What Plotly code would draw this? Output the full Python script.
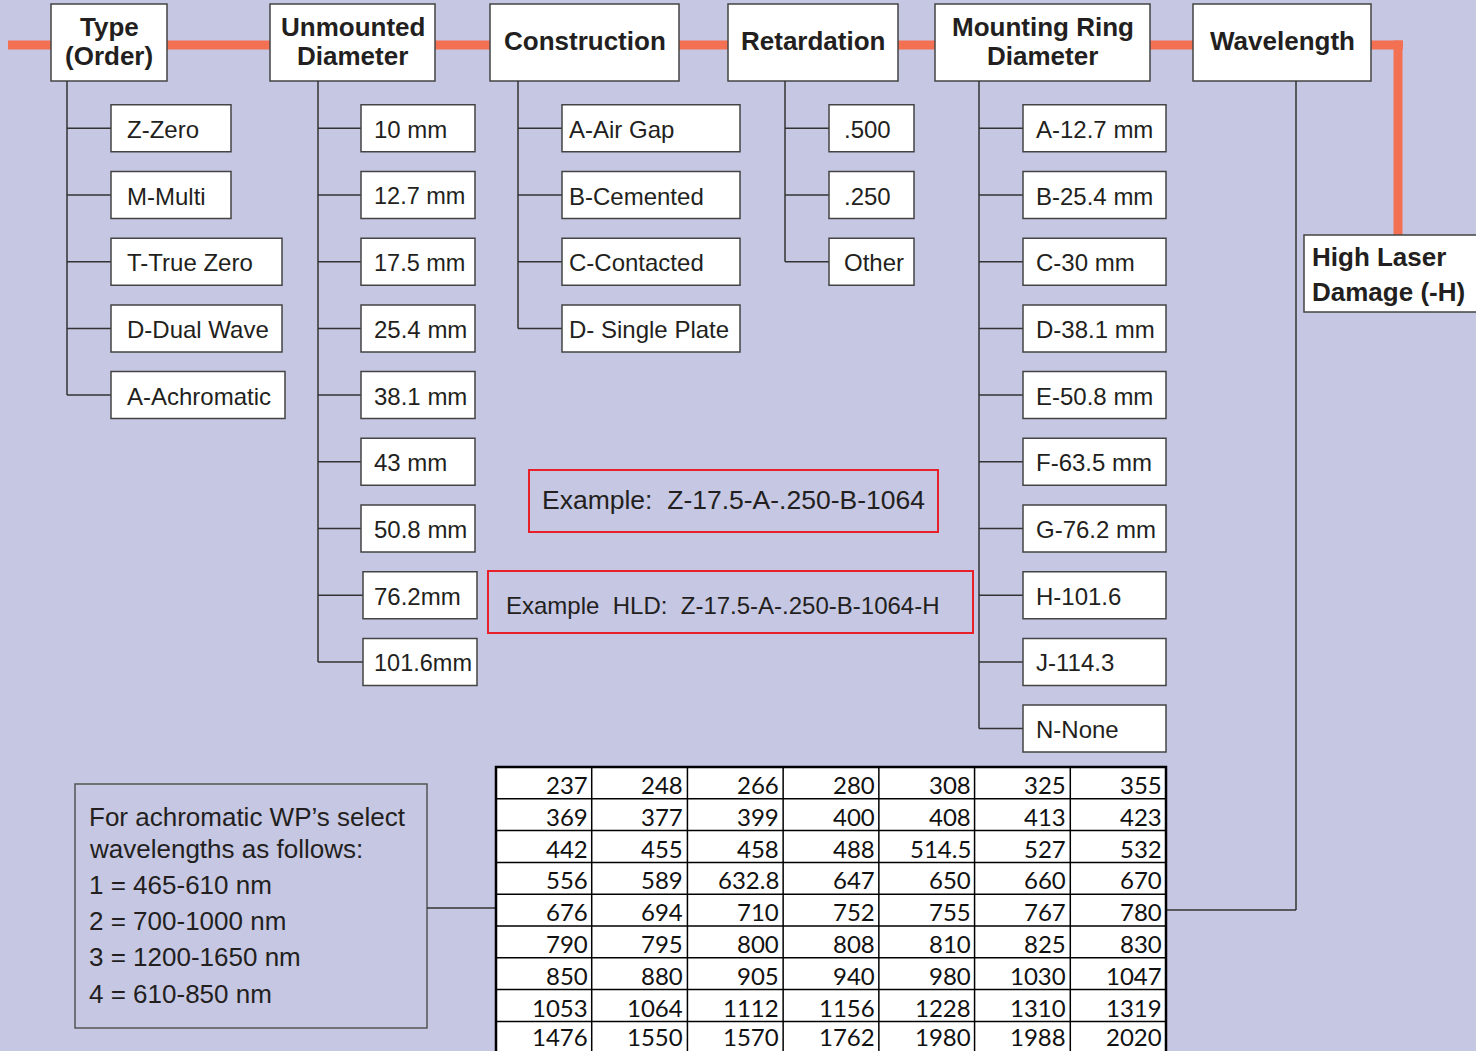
import plotly.graph_objects as go

# ---------------- data ----------------
headers = ["Type\n(Order)", "Unmounted\nDiameter", "Construction", "Retardation",
           "Mounting Ring\nDiameter", "Wavelength"]
type_items = ["Z-Zero", "M-Multi", "T-True Zero", "D-Dual Wave", "A-Achromatic"]
diameter_items = ["10 mm", "12.7 mm", "17.5 mm", "25.4 mm", "38.1 mm", "43 mm",
                  "50.8 mm", "76.2mm", "101.6mm"]
construction_items = ["A-Air Gap", "B-Cemented", "C-Contacted", "D- Single Plate"]
retardation_items = [".500", ".250", "Other"]
ring_items = ["A-12.7 mm", "B-25.4 mm", "C-30 mm", "D-38.1 mm", "E-50.8 mm",
              "F-63.5 mm", "G-76.2 mm", "H-101.6", "J-114.3", "N-None"]
hld_label = "High Laser\nDamage (-H)"
example_1 = "Example:  Z-17.5-A-.250-B-1064"
example_2 = "Example  HLD:  Z-17.5-A-.250-B-1064-H"
achromatic_note = ["For achromatic WP\u2019s select", "wavelengths as follows:",
                   "1 = 465-610 nm", "2 = 700-1000 nm", "3 = 1200-1650 nm", "4 = 610-850 nm"]
wavelength_rows = [
    ["237", "248", "266", "280", "308", "325", "355"],
    ["369", "377", "399", "400", "408", "413", "423"],
    ["442", "455", "458", "488", "514.5", "527", "532"],
    ["556", "589", "632.8", "647", "650", "660", "670"],
    ["676", "694", "710", "752", "755", "767", "780"],
    ["790", "795", "800", "808", "810", "825", "830"],
    ["850", "880", "905", "940", "980", "1030", "1047"],
    ["1053", "1064", "1112", "1156", "1228", "1310", "1319"],
    ["1476", "1550", "1570", "1762", "1980", "1988", "2020"],
]

# ---------------- layout geometry (pixels) ----------------
W, H = 1476, 1051
BG = "#C6C7E3"
ORANGE = "#F37053"
LINE = "#333333"
BOXLINE = "#444444"
RED = "#E8202A"
FONT = "Liberation Sans, Arial, sans-serif"
TFONT = "Lato, Liberation Sans, sans-serif"

header_x = [(51, 167), (270, 435), (490, 679), (728, 898), (935, 1150), (1193, 1371)]
header_y = (4, 81)
tree_x = [67, 318, 518, 785, 979]
col_items = [type_items, diameter_items, construction_items, retardation_items, ring_items]
col_box_x = [
    [(111, 231), (111, 231), (111, 282), (111, 282), (111, 285)],
    [(361, 475)] * 7 + [(363, 477)] * 2,
    [(562, 740)] * 4,
    [(829, 914)] * 3,
    [(1023, 1166)] * 10,
]
col_text_x = [125, 372, 567, 842, 1034]
row_y0, row_dy, box_h = 128.3, 66.7, 47

shapes = []
annotations = []


def rect(x0, y0, x1, y1, line_color=BOXLINE, width=1.5, fill="white"):
    shapes.append(dict(type="rect", xref="x", yref="y", x0=x0, y0=y0, x1=x1, y1=y1,
                       line=dict(color=line_color, width=width), fillcolor=fill, layer="above"))


def seg(x0, y0, x1, y1, color=LINE, width=1.5):
    shapes.append(dict(type="line", xref="x", yref="y", x0=x0, y0=y0, x1=x1, y1=y1,
                       line=dict(color=color, width=width), layer="above"))


def text(x, y, s, size, bold=False, anchor="left", family=FONT, color="#231F20"):
    annotations.append(dict(x=x, y=y, xref="x", yref="y", text=("<b>%s</b>" % s) if bold else s,
                            showarrow=False, xanchor=anchor, yanchor="middle",
                            font=dict(family=family, size=size, color=color)))


# orange spine
orange_y = 45
shapes.append(dict(type="line", xref="x", yref="y", x0=8, y0=orange_y, x1=1403, y1=orange_y,
                   line=dict(color=ORANGE, width=9), layer="below"))
shapes.append(dict(type="line", xref="x", yref="y", x0=1398, y0=orange_y - 4.5, x1=1398, y1=236,
                   line=dict(color=ORANGE, width=9), layer="below"))

# headers
for label, (x0, x1) in zip(headers, header_x):
    rect(x0, header_y[0], x1, header_y[1])
    lines = label.split("\n")
    cx = (x0 + x1) / 2
    if len(lines) == 1:
        text(cx, 41, lines[0], 26, bold=True, anchor="center")
    else:
        text(cx, 27, lines[0], 26, bold=True, anchor="center")
        text(cx, 56, lines[1], 26, bold=True, anchor="center")

# trees and item boxes
for tx, items, boxes, tx_text in zip(tree_x, col_items, col_box_x, col_text_x):
    last_y = row_y0 + row_dy * (len(items) - 1)
    seg(tx, header_y[1], tx, last_y)
    for i, (lab, (bx0, bx1)) in enumerate(zip(items, boxes)):
        cy = row_y0 + row_dy * i
        seg(tx, cy, bx0, cy)
        rect(bx0, cy - box_h / 2, bx1, cy + box_h / 2)
        text(tx_text, cy + 1, lab, 24 if len(lab) < 7 or lab[0] != "1" else 23.5)

# wavelength connector
table_x0, table_x1 = 496, 1166
table_y0, row_h = 767, 31.8
seg(1296, header_y[1], 1296, 910)
seg(1296, 910, table_x1, 910)

# High laser damage box
rect(1304, 235, 1480, 312)
hl = hld_label.split("\n")
text(1310, 257, hl[0], 26, bold=True)
text(1310, 292, hl[1], 26, bold=True)

# example boxes
rect(529, 470, 938, 532, line_color=RED, width=2, fill="rgba(0,0,0,0)")
text(540, 500, example_1.replace("  ", "\u00a0\u00a0"), 26.5)
rect(488, 571, 973, 633, line_color=RED, width=2, fill="rgba(0,0,0,0)")
text(504, 605, example_2.replace("  ", "\u00a0\u00a0"), 24)

# achromatic note box
rect(75, 784, 427, 1028, line_color="#555555", width=1.5, fill="rgba(0,0,0,0)")
note_y = [817, 849, 885, 921, 957, 994]
for s, yy in zip(achromatic_note, note_y):
    text(87, yy, s, 26)
seg(427, 908, table_x0, 908)

# wavelength table
ncols = len(wavelength_rows[0])
col_w = (table_x1 - table_x0) / ncols
nrows = len(wavelength_rows)
table_bottom = table_y0 + row_h * nrows + 3
shapes.append(dict(type="rect", xref="x", yref="y", x0=table_x0, y0=table_y0, x1=table_x1,
                   y1=table_bottom, line=dict(color="black", width=2.5), fillcolor="white",
                   layer="above"))
for c in range(1, ncols):
    xx = table_x0 + col_w * c
    seg(xx, table_y0, xx, table_bottom, color="black", width=1.5)
for r in range(1, nrows):
    yy = table_y0 + row_h * r
    seg(table_x0, yy, table_x1, yy, color="black", width=1.5)
for r, row in enumerate(wavelength_rows):
    cy = table_y0 + row_h * (r + 0.55) - (2.5 if r == nrows - 1 else 0)
    for c, v in enumerate(row):
        text(table_x0 + col_w * (c + 1) - 2, cy, v, 24, anchor="right", family=TFONT,
             color="#111111")

fig = go.Figure()
fig.add_trace(go.Scatter(x=[0, W], y=[0, H], mode="markers", marker=dict(opacity=0),
                         hoverinfo="skip", showlegend=False))
fig.update_layout(
    width=W, height=H, margin=dict(l=0, r=0, t=0, b=0),
    paper_bgcolor=BG, plot_bgcolor=BG, showlegend=False,
    xaxis=dict(range=[0, W], visible=False, fixedrange=True),
    yaxis=dict(range=[H, 0], visible=False, fixedrange=True),
    shapes=shapes, annotations=annotations,
)
fig.write_html("out.html", config={"displayModeBar": False},
               post_script="document.body.style.margin='0';document.body.style.overflow='hidden';")
